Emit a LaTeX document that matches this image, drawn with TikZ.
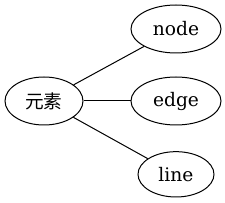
\documentclass[tikz,border=0pt]{standalone}
\usepackage{fontspec}
\setmainfont{DejaVu Serif}
\newfontfamily\cjkfont{Noto Sans CJK SC}
\usetikzlibrary{shapes.geometric}
\usetikzlibrary{positioning}

\begin{document}
\begin{tikzpicture}[x=1pt,y=1pt,
  elem/.style={ellipse,draw=black,line width=0.75pt,inner sep=0pt,minimum height=36pt,font=\fontsize{14pt}{16pt}\selectfont},
  link/.style={draw=black,line width=0.75pt}]
\useasboundingbox (0,0) rectangle (168.75,152.25);
\node[elem,minimum width=58.5pt] (root) at (33,76.5) {\cjkfont 元素};
\node[elem,minimum width=67.5pt] (nd) at (132,130.5) {node};
\node[elem,minimum width=67.5pt] (ed) at (132,76.5) {edge};
\node[elem,minimum width=57pt,minimum height=34pt] (ln) at (132,21.5) {line};

\draw[link] (root) -- (nd);
\draw[link] (root) -- (ed);
\draw[link] (root) -- (ln);
\end{tikzpicture}
\end{document}
